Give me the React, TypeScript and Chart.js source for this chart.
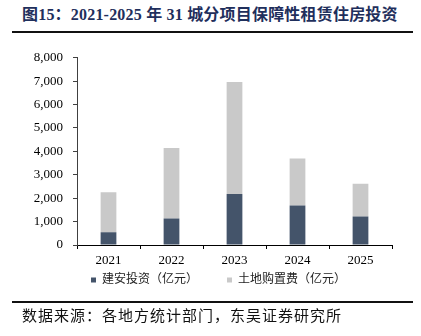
import React, { useEffect, useRef } from "react";
import { Chart, registerables } from "chart.js";

Chart.register(...registerables);

const years = ["2021", "2022", "2023", "2024", "2025"];
const constructionInvest = [540, 1130, 2180, 1690, 1220];
const landPurchase = [1710, 3020, 4790, 2010, 1400];
const yTicks = [0, 1000, 2000, 3000, 4000, 5000, 6000, 7000, 8000];

const titleText = "图15：2021-2025 年 31 城分项目保障性租赁住房投资";
const sourceText = "数据来源：各地方统计部门，东吴证券研究所";
const seriesNames = ["建安投资（亿元）", "土地购置费（亿元）"];

const serif = "'Liberation Serif', 'Times New Roman', 'Noto Sans CJK SC', serif";
const cjk = "'Liberation Serif', 'Noto Sans CJK SC', serif";

const legendPlacer = {
  id: "legendPlacer",
  beforeDraw(chart: any) {
    const lg = chart.legend;
    if (!lg) return;
    const bottom = chart.chartArea.bottom;
    lg.left = 45;
    lg.top = bottom;
  },
};

export default function App() {
  const ref = useRef<HTMLCanvasElement | null>(null);

  useEffect(() => {
    if (!ref.current) return;
    const chart = new Chart(ref.current, {
      type: "bar",
      data: {
        labels: years,
        datasets: [
          {
            label: seriesNames[0],
            data: constructionInvest,
            backgroundColor: "#44546A",
            borderWidth: 0,
            categoryPercentage: 1,
            barPercentage: 0.25,
          },
          {
            label: seriesNames[1],
            data: landPurchase,
            backgroundColor: "#C9C9C9",
            borderWidth: 0,
            categoryPercentage: 1,
            barPercentage: 0.25,
          },
        ],
      },
      plugins: [legendPlacer],
      options: {
        animation: false,
        responsive: false,
        maintainAspectRatio: false,
        layout: { padding: { left: 0, right: 29, top: 12, bottom: 0 } },
        plugins: {
          tooltip: { enabled: false },
          legend: {
            position: "bottom",
            labels: {
              boxWidth: 5,
              boxHeight: 5,
              padding: 29,
              color: "#222",
              font: { family: cjk, size: 12 },
            },
          },
        },
        scales: {
          x: {
            stacked: true,
            grid: {
              display: true,
              offset: true,
              drawOnChartArea: false,
              drawTicks: true,
              tickLength: 4,
              color: "#000",
            },
            border: { display: true, color: "#000", width: 1 },
            ticks: {
              color: "#000",
              font: { family: serif, size: 13 },
              padding: 4,
              maxRotation: 0,
            },
            afterFit: (s: any) => {
              s.height = 25;
            },
          },
          y: {
            stacked: true,
            min: yTicks[0],
            max: yTicks[yTicks.length - 1],
            afterBuildTicks: (s: any) => {
              s.ticks = yTicks.map((v) => ({ value: v }));
            },
            grid: {
              display: true,
              drawOnChartArea: false,
              drawTicks: true,
              tickLength: 4,
              color: "#404040",
            },
            border: { display: true, color: "#404040", width: 1 },
            ticks: {
              color: "#000",
              font: { family: serif, size: 13 },
              padding: 10,
              callback: (v: any) => Number(v).toLocaleString("en-US"),
            },
            afterFit: (s: any) => {
              s.width = 77;
            },
          },
        },
      },
    });
    return () => chart.destroy();
  }, []);

  return (
    <div
      style={{
        position: "fixed",
        left: 0,
        top: 0,
        width: 421,
        height: 336,
        background: "#fff",
        overflow: "hidden",
      }}
    >
      <div
        style={{
          position: "absolute",
          left: 22,
          top: 4,
          fontFamily: cjk,
          fontWeight: "bold",
          fontSize: 16,
          color: "#1f2f5c",
          whiteSpace: "nowrap",
          lineHeight: "22px",
          letterSpacing: 0.2,
        }}
      >
        {titleText}
      </div>
      <div
        style={{
          position: "absolute",
          left: 12,
          top: 31,
          width: 401,
          height: 2,
          background: "#111",
        }}
      />
      <canvas
        ref={ref}
        width={421}
        height={281}
        style={{ position: "absolute", left: 0, top: 40, width: 421, height: 281 }}
      />
      <div
        style={{
          position: "absolute",
          left: 12,
          top: 301,
          width: 401,
          height: 2,
          background: "#111",
        }}
      />
      <div
        style={{
          position: "absolute",
          left: 22,
          top: 306,
          fontFamily: cjk,
          fontSize: 15,
          letterSpacing: 1,
          color: "#111",
          whiteSpace: "nowrap",
          lineHeight: "20px",
        }}
      >
        {sourceText}
      </div>
    </div>
  );
}
